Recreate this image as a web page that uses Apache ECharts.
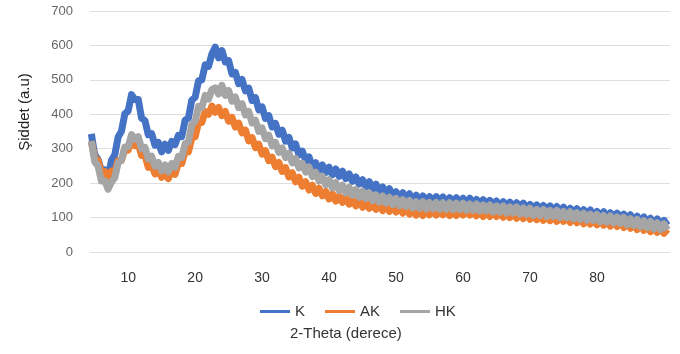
<!DOCTYPE html>
<html>
<head>
<meta charset="utf-8">
<script src="https://cdn.jsdelivr.net/npm/echarts@6/dist/echarts.min.js"></script>
<style>
  html, body { margin: 0; padding: 0; background: #fff; }
  #chart { width: 680px; height: 354px; }
</style>
</head>
<body>
<div id="chart"></div>
<script>
  // 2-Theta olcum adimi (derece)
  const THETA_START = 4.5
  const THETA_STEP = 0.5
  const xTicks = [10, 20, 30, 40, 50, 60, 70, 80]

  // Siddet degerleri, her satir 5 derece (10 nokta), 4.5 -> 90.5
  const K = [
    343, 282, 269, 237, 239, 217, 266, 282, 334, 351,
    401, 410, 457, 443, 443, 389, 382, 341, 344, 310,
    318, 291, 313, 295, 321, 312, 339, 335, 383, 389,
    441, 449, 497, 500, 544, 539, 575, 595, 564, 585,
    552, 556, 517, 522, 489, 501, 468, 476, 440, 448,
    413, 421, 388, 396, 363, 373, 342, 354, 322, 333,
    302, 314, 282, 293, 265, 276, 247, 259, 237, 253,
    231, 246, 224, 241, 220, 235, 213, 227, 205, 218,
    197, 210, 189, 204, 183, 197, 176, 189, 169, 184,
    161, 175, 157, 172, 155, 169, 151, 165, 148, 163,
    146, 161, 145, 161, 145, 160, 143, 158, 143, 158,
    141, 156, 141, 156, 139, 153, 138, 152, 136, 150,
    134, 148, 132, 146, 131, 145, 129, 143, 128, 142,
    124, 138, 123, 137, 121, 135, 120, 134, 118, 132,
    116, 130, 113, 127, 112, 126, 109, 123, 108, 122,
    104, 118, 103, 117, 100, 114, 99, 113, 96, 110,
    94, 108, 90, 104, 88, 102, 84, 98, 82, 96,
    79, 92, 78
  ]
  const AK = [
    322, 272, 267, 232, 234, 207, 235, 232, 266, 266,
    299, 296, 325, 309, 314, 280, 281, 246, 254, 227,
    239, 217, 232, 213, 236, 226, 259, 257, 291, 291,
    331, 335, 375, 376, 408, 400, 424, 406, 420, 396,
    408, 380, 391, 363, 374, 346, 354, 323, 332, 303,
    313, 284, 294, 265, 275, 248, 260, 234, 245, 218,
    230, 204, 217, 191, 204, 180, 194, 170, 185, 163,
    176, 154, 169, 148, 163, 144, 159, 139, 153, 134,
    149, 130, 145, 127, 142, 124, 138, 120, 135, 118,
    133, 116, 130, 113, 127, 110, 124, 107, 122, 106,
    124, 108, 122, 107, 123, 108, 122, 106, 121, 106,
    122, 107, 122, 107, 121, 105, 119, 103, 119, 103,
    119, 103, 117, 101, 116, 100, 114, 98, 113, 97,
    111, 95, 110, 94, 108, 92, 107, 91, 105, 89,
    105, 89, 102, 86, 101, 85, 98, 82, 97, 81,
    95, 79, 94, 78, 91, 75, 90, 74, 87, 71,
    85, 69, 81, 65, 79, 63, 75, 59, 73, 57,
    69, 54, 66
  ]
  const HK = [
    322, 262, 250, 206, 207, 182, 203, 216, 259, 267,
    305, 306, 341, 328, 335, 300, 304, 270, 278, 249,
    260, 236, 253, 233, 257, 246, 278, 275, 315, 320,
    371, 380, 423, 420, 455, 444, 472, 477, 459, 484,
    455, 469, 438, 450, 419, 431, 398, 408, 375, 383,
    350, 360, 329, 339, 308, 318, 289, 302, 274, 287,
    259, 272, 244, 258, 232, 247, 219, 232, 206, 220,
    195, 210, 186, 202, 178, 194, 171, 188, 165, 182,
    159, 177, 155, 172, 149, 166, 145, 163, 142, 159,
    138, 156, 134, 152, 132, 150, 128, 146, 127, 146,
    125, 144, 125, 144, 124, 143, 124, 143, 123, 142,
    123, 142, 121, 140, 121, 140, 119, 137, 119, 137,
    116, 134, 116, 134, 113, 131, 113, 131, 110, 128,
    109, 127, 106, 124, 106, 124, 103, 121, 103, 121,
    100, 118, 99, 117, 96, 114, 95, 113, 92, 110,
    91, 109, 88, 106, 87, 105, 84, 102, 83, 101,
    79, 97, 77, 95, 73, 91, 71, 89, 67, 85,
    65, 82, 64
  ]

  const COLORS = { K: '#4472C4', AK: '#ED7D31', HK: '#A5A5A5' }
  const FONT = "'Liberation Sans', Arial, sans-serif"

  function pairs(arr) {
    return arr.map((v, i) => [THETA_START + i * THETA_STEP, v])
  }

  function lineSeries(name, arr) {
    return {
      name: name,
      type: 'line',
      data: pairs(arr),
      showSymbol: false,
      symbol: 'none',
      smooth: false,
      lineStyle: { color: COLORS[name], width: 7, join: 'round' },
      itemStyle: { color: COLORS[name] }
    }
  }

  const chart = echarts.init(document.getElementById('chart'), null, { renderer: 'canvas' })
  chart.setOption({
    animation: false,
    grid: { left: 90, right: 10, top: 11, bottom: 102 },
    legend: {
      data: ['K', 'AK', 'HK'],
      left: 255,
      top: 299,
      icon: 'rect',
      itemWidth: 30,
      itemHeight: 3,
      itemGap: 20,
      textStyle: { fontFamily: FONT, fontSize: 15, color: '#333' }
    },
    xAxis: {
      type: 'value',
      min: 4.3,
      max: 90.9,
      axisLine: { show: false },
      axisTick: { show: false },
      splitLine: { show: false },
      axisLabel: {
        customValues: xTicks,
        margin: 19,
        fontFamily: FONT,
        fontSize: 14,
        color: '#333'
      }
    },
    yAxis: {
      type: 'value',
      min: 0,
      max: 700,
      interval: 100,
      axisLine: { show: false },
      axisTick: { show: false },
      splitLine: { lineStyle: { color: '#dedede', width: 1 } },
      axisLabel: { margin: 17, fontFamily: FONT, fontSize: 13, color: '#666' }
    },
    graphic: [
      {
        type: 'text',
        left: 290,
        top: 326,
        style: { text: '2-Theta (derece)', font: '15px ' + FONT, fill: '#333' }
      },
      {
        type: 'text',
        x: 25,
        y: 112,
        rotation: Math.PI / 2,
        style: {
          text: 'Şiddet (a.u)', font: '15px ' + FONT, fill: '#222',
          align: 'center', verticalAlign: 'middle'
        }
      }
    ],
    series: [lineSeries('K', K), lineSeries('AK', AK), lineSeries('HK', HK)]
  })
</script>
</body>
</html>
